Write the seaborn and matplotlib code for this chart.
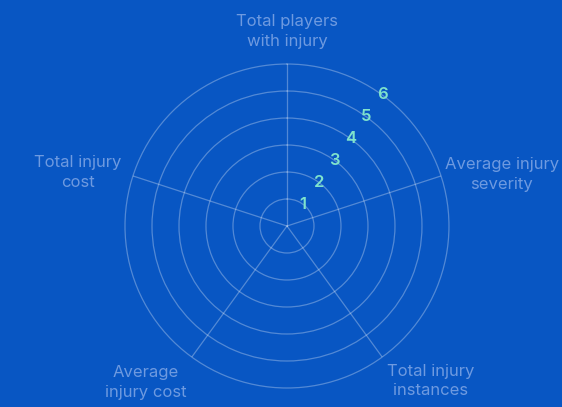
import matplotlib.pyplot as plt
import numpy as np
import seaborn as sns

categories = ['Total players\nwith injury', 'Average injury\nseverity', 'Total injury\ninstances',
              'Average\ninjury cost', 'Total injury\ncost']
tick_values = [1, 2, 3, 4, 5, 6]
r_max = 6

bg = '#0856c3'
grid_col = '#ffffff'
label_col = '#6e9ae0'
tick_col = '#7fe3cc'

sns.set_style('white')
plt.rcParams['font.family'] = ['Inter', 'DejaVu Sans']

fig = plt.figure(figsize=(5.62, 4.07), dpi=100, facecolor=bg)
ax = fig.add_axes([0.2224, 0.0467, 0.5765, 0.796], projection='polar', facecolor=bg)
ax.set_theta_zero_location('N')
ax.set_theta_direction(-1)

angles = np.linspace(0, 2 * np.pi, len(categories), endpoint=False)
ax.set_xticks(angles)
ax.set_xticklabels([])
ax.set_yticks(tick_values[:-1])
ax.set_yticklabels([])
ax.set_ylim(0, r_max)
ax.grid(True, color=grid_col, alpha=0.3, linewidth=0.9)
ax.spines['polar'].set_color(grid_col)
ax.spines['polar'].set_alpha(0.3)
ax.spines['polar'].set_linewidth(0.9)
ax.tick_params(length=0)

# axis labels around the web
place = [(6.55, 'center', 'bottom'), (6.15, 'left', 'center'), (6.3, 'left', 'top'),
         (6.35, 'right', 'top'), (6.45, 'right', 'center')]
for ang, lab, (r, ha, va) in zip(angles, categories, place):
    ax.text(ang, r, lab, ha=ha, va=va, multialignment='center', color=label_col,
            fontsize=12, linespacing=1.4, clip_on=False)

# radial tick labels
for v in tick_values:
    ax.text(np.deg2rad(36), v, str(v), ha='center', va='center', color=tick_col,
            fontsize=12, fontweight='semibold')

fig.savefig('out.png', dpi=100, facecolor=bg)
